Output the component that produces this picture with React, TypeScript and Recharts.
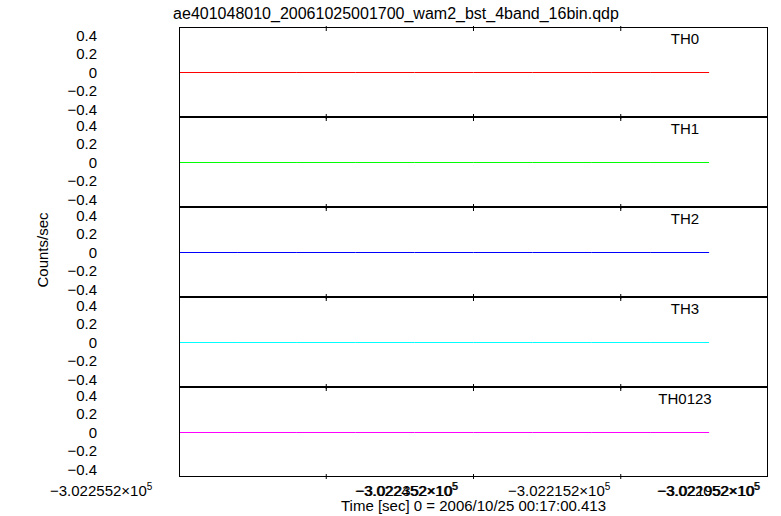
import { LineChart, Line, XAxis, YAxis } from 'recharts';

const TITLE = 'ae401048010_20061025001700_wam2_bst_4band_16bin.qdp';
const panels = ['TH0', 'TH1', 'TH2', 'TH3', 'TH0123'];
const colors = ['#ff0000', '#00ff00', '#0000ff', '#00ffff', '#ff00ff'];
const binTimes = [0, 0.4, 0.8, 1.2, 1.6, 2.0, 2.4, 2.8, 3.2, 3.6];
const rates = [
  [0, 0, 0, 0, 0, 0, 0, 0, 0, 0],
  [0, 0, 0, 0, 0, 0, 0, 0, 0, 0],
  [0, 0, 0, 0, 0, 0, 0, 0, 0, 0],
  [0, 0, 0, 0, 0, 0, 0, 0, 0, 0],
  [0, 0, 0, 0, 0, 0, 0, 0, 0, 0],
];
const yTicks = [0.4, 0.2, 0, -0.2, -0.4];
const xTicks = [1, 2, 3];
// qdp draws overlapping labels; keep their odd placement
const xTickLabels = [
  { text: '\u22123.022552\u00d710', left: 50 },
  { text: '\u22123.022452\u00d710', left: 355 },
  { text: '\u22123.022352\u00d710', left: 356 },
  { text: '\u22123.022152\u00d710', left: 508 },
  { text: '\u22123.022052\u00d710', left: 657 },
  { text: '\u22123.021952\u00d710', left: 658 },
];

const FONT = '"Liberation Sans", Arial, sans-serif';
const PANEL_TOP = 27;
const PANEL_H = 90;

const noLabel = () => <g />;

export default function App() {
  return (
    <div style={{ position: 'absolute', left: 0, top: 0, width: 781, height: 516, background: '#fff', fontFamily: FONT, color: '#000' }}>
      <div style={{ position: 'absolute', left: 146, width: 500, top: 5, textAlign: 'center', fontSize: 16, whiteSpace: 'nowrap' }}>
        {TITLE}
      </div>
      {panels.map((name, i) => {
        const data = binTimes.map((t, k) => ({ t, v: rates[i][k] }));
        return (
          <div key={name} style={{ position: 'absolute', left: 0, top: PANEL_TOP + PANEL_H * i }}>
            <div style={{ position: 'absolute', left: 0, top: -1 }}>
              <LineChart width={781} height={PANEL_H + 3} data={data} margin={{ top: 0, right: 13, bottom: 0, left: 97 }}>
                <XAxis xAxisId="b" dataKey="t" type="number" domain={[0, 4]} ticks={xTicks} orientation="bottom" height={1}
                  mirror tickSize={5} tick={noLabel} axisLine={false} tickLine={{ stroke: '#000' }} />
                <XAxis xAxisId="t" dataKey="t" type="number" domain={[0, 4]} ticks={xTicks} orientation="top" height={1}
                  mirror tickSize={5} tick={noLabel} axisLine={false} tickLine={{ stroke: '#000' }} />
                <YAxis yAxisId="l" domain={[-0.5, 0.5]} ticks={yTicks} interval={0} width={82} tickLine={false} tickSize={0} tickMargin={82}
                  axisLine={false} tick={{ fill: '#000', fontSize: 15, fontFamily: FONT }}
                  tickFormatter={(v: number) => (v < 0 ? '\u2212' + Math.abs(v) : String(v))} />
                <Line xAxisId="b" yAxisId="l" dataKey="v" stroke={colors[i]} strokeWidth={1} dot={false} isAnimationActive={false} />
              </LineChart>
            </div>
            <div style={{ position: 'absolute', left: 179, top: 0, width: 589, height: PANEL_H, border: '1px solid #000', boxSizing: 'border-box', pointerEvents: 'none' }} />
            <div style={{ position: 'absolute', left: 635, width: 100, top: 3, textAlign: 'center', fontSize: 15 }}>{name}</div>
          </div>
        );
      })}
      {xTickLabels.map((l, i) => (
        <div key={i} style={{ position: 'absolute', left: l.left, top: 481, fontSize: 15, whiteSpace: 'nowrap' }}>
          {l.text}<sup style={{ fontSize: 10 }}>5</sup>
        </div>
      ))}
      <div style={{ position: 'absolute', left: 179, width: 589, top: 497, textAlign: 'center', fontSize: 15, paddingRight: 10 }}>
        Time [sec] 0 = 2006/10/25 00:17:00.413
      </div>
      <div style={{ position: 'absolute', left: 42, top: 250, fontSize: 15, whiteSpace: 'nowrap', transform: 'translate(-50%, -50%) rotate(-90deg)' }}>
        Counts/sec
      </div>
    </div>
  );
}
